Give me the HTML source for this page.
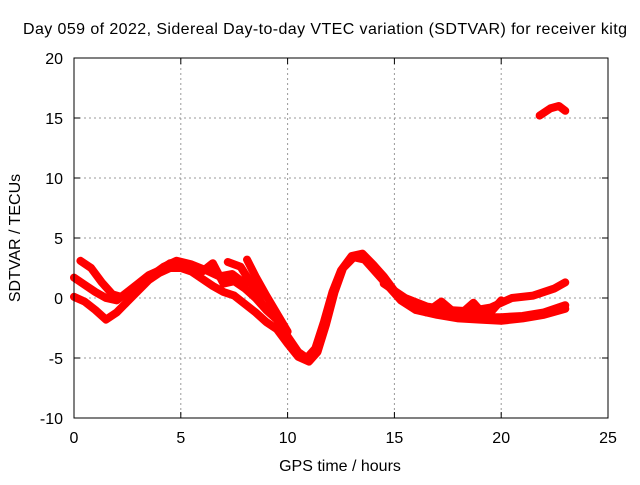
<!DOCTYPE html>
<html><head><meta charset="utf-8"><style>
body{margin:0;background:#fff}
svg text{font-family:"Liberation Sans",sans-serif;font-size:16px;fill:#000}
</style></head><body>
<svg id="chart" width="640" height="480">
<text x="23" y="34" textLength="604" lengthAdjust="spacing">Day 059 of 2022, Sidereal Day-to-day VTEC variation (SDTVAR) for receiver kitg</text>
<text x="340" y="471" text-anchor="middle">GPS time / hours</text>
<text transform="translate(20,238) rotate(-90)" text-anchor="middle">SDTVAR / TECUs</text>
<g id="grid"></g><g id="ticks"></g><g id="series"></g>
<rect x="74" y="58" width="534" height="360" fill="none" stroke="#000"/>
</svg>
<script>
const xTicks=[0,5,10,15,20,25];
const yTicks=[-10,-5,0,5,10,15,20];
const trackA=[[0.3,3.1],[0.8,2.5],[1.3,1.3],[1.8,0.3],[2.2,0.1],[2.8,0.8],[3.5,1.7],[4.2,2.6],[4.8,3.1],[5.5,2.8],[6.2,2.3],[6.8,1.8],[7.4,2.0],[8,1.2]];
const trackB=[[0,1.7],[0.5,1.1],[1,0.5],[1.5,0],[2,-0.2],[2.5,0.5],[3,1.2],[3.5,1.9],[4,2.3],[4.5,2.9],[5,2.9],[5.5,2.6],[6,2.2],[6.5,2.9],[7,1.2],[7.5,1.4],[8,0.8],[8.5,0],[9,-1],[9.5,-1.8],[10,-3.2],[10.5,-4.5],[10.9,-5],[11.3,-4.2],[11.7,-2],[12.1,0.5],[12.5,2.3],[13,3.5],[13.5,3.7],[14,2.8],[14.5,1.8],[15,0.6],[15.5,-0.3],[16,-0.8],[17,-1.1],[18,-1.4],[19,-1.6],[20,-1.6],[21,-1.5],[22,-1.2],[23,-0.6]];
const trackC=[[0,0.1],[0.5,-0.3],[1,-1],[1.5,-1.8],[2,-1.2],[2.5,-0.3],[3,0.6],[3.5,1.5],[4,2.1],[4.5,2.5],[5,2.5],[5.5,2.2],[6,1.6],[6.5,1.0],[7,0.5],[7.5,0.2],[8,-0.5],[8.5,-1.2],[9,-2],[9.5,-2.6],[10,-3.8],[10.5,-4.9],[11,-5.3],[11.4,-4.5],[11.8,-2.2],[12.2,0.5],[12.6,2.5],[13.1,3.4],[13.6,3.2],[14.2,2],[14.8,0.8],[15.3,-0.2],[16,-1],[17,-1.4],[18,-1.7],[19,-1.8],[20,-1.9],[21,-1.7],[22,-1.4],[23,-0.9]];
const trackD=[[8.1,3.2],[8.5,1.8],[9,0.2],[9.5,-1.3],[10,-2.8]];
const trackE=[[7.2,3.0],[7.8,2.6],[8.3,1.2],[8.8,-0.5],[9.4,-1.5]];
const trackF=[[14.5,1.2],[15.5,0],[16.5,-0.7],[17.5,-1.0],[18.5,-1.1],[19.5,-0.8],[20.5,0],[21.5,0.2],[22.5,0.8],[23,1.3]];
const trackG=[[16.5,-1.2],[17.2,-0.3],[18,-1.5],[18.7,-0.4],[19.3,-1.6],[20,-0.2]];
const trackH=[[21.8,15.2],[22.3,15.8],[22.7,16.0],[23,15.6]];
const tracks=[trackA,trackB,trackC,trackD,trackE,trackF,trackG,trackH];
const X=v=>74+v*534/25, Y=v=>418-(v+10)*12;
const NS="http://www.w3.org/2000/svg";
function mk(t,a,p){const e=document.createElementNS(NS,t);for(const k in a)e.setAttribute(k,a[k]);p.appendChild(e);return e;}
const grid=document.getElementById('grid'),ticks=document.getElementById('ticks'),ser=document.getElementById('series');
xTicks.forEach(t=>{const x=X(t);
 if(t>0&&t<25){const g=mk('line',{x1:x,x2:x,y1:58,y2:418,stroke:'#999','stroke-dasharray':'2,3'},grid);
 
 }
 mk('line',{x1:x,x2:x,y1:418,y2:412,stroke:'#000'},ticks);mk('line',{x1:x,x2:x,y1:58,y2:64,stroke:'#000'},ticks);
 const l=mk('text',{x:x,y:443,'text-anchor':'middle'},ticks);l.textContent=t;
 
 });
yTicks.forEach(t=>{const y=Y(t);
 if(t>-10&&t<20){const g=mk('line',{x1:74,x2:608,y1:y,y2:y,stroke:'#999','stroke-dasharray':'2,3'},grid);
 
 }
 mk('line',{x1:74,x2:80,y1:y,y2:y,stroke:'#000'},ticks);mk('line',{x1:602,x2:608,y1:y,y2:y,stroke:'#000'},ticks);
 const l=mk('text',{x:63,y:y+6,'text-anchor':'end'},ticks);l.textContent=t;
 
 });
tracks.forEach((tr,i)=>{
 const p=mk('polyline',{points:tr.map(d=>X(d[0])+','+Y(d[1])).join(' '),fill:'none',stroke:'#f00','stroke-width':8,'stroke-linejoin':'round','stroke-linecap':'round'},ser);
 
 
});
</script>
</body></html>
